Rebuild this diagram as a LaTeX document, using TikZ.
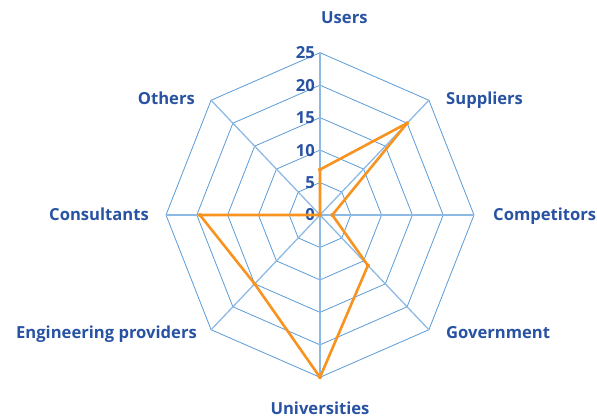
\documentclass[tikz,border=0pt]{standalone}
\usepackage{fontspec}
\setsansfont{Open Sans}
\usepackage{xcolor}
\usepackage{tikz}
\usetikzlibrary{positioning}
\definecolor{gridblue}{RGB}{91,155,213}
\definecolor{axisblue}{RGB}{140,186,228}
\definecolor{textblue}{RGB}{40,82,162}
\definecolor{lineorange}{RGB}{247,147,30}

\begin{document}
\begin{tikzpicture}[x=6.16pt,y=6.492pt]
\tikzset{ring/.style = {draw=gridblue,line width=0.8pt,line join=miter}}
\tikzset{spoke/.style = {draw=axisblue,line width=1.3pt}}
\tikzset{axislabel/.style = {font=\sffamily\bfseries\fontsize{16.6}{19}\selectfont,text=textblue,inner sep=0pt}}
\tikzset{series/.style = {draw=lineorange,line width=2.6pt,line join=round}}
\useasboundingbox (-320pt,-204pt) rectangle (277pt,215pt);
\coordinate (o) at (0,0);
\foreach \a/\n in {90/users,45/suppliers,0/competitors,-45/government,-90/universities,-135/engineering,180/consultants,135/others}
  \coordinate (\n) at (\a:25);
% rings and spokes
\foreach \r in {5,10,...,25}
  \draw[ring] (0:\r) -- (45:\r) -- (90:\r) -- (135:\r) -- (180:\r) -- (225:\r) -- (270:\r) -- (315:\r) -- cycle;
\foreach \n in {users,suppliers,competitors,government,universities,engineering,consultants,others}
  \draw[spoke] (o) -- (\n);
% scale
\foreach \r in {0,5,...,25}
  \node[axislabel,anchor=east,xshift=-5pt] (tick\r) at (0,\r) {\r};
% axis names
\node[axislabel,anchor=base west] (users-label) at (1pt,191pt) {Users};
\node[axislabel,anchor=base west] (suppliers-label) at (126pt,110.7pt) {Suppliers};
\node[axislabel,anchor=base west] (competitors-label) at (173pt,-6pt) {Competitors};
\node[axislabel,anchor=base west] (government-label) at (126pt,-123.7pt) {Government};
\node[axislabel,anchor=base] (universities-label) at (0pt,-200pt) {Universities};
\node[axislabel,anchor=base east] (engineering-label) at (-123pt,-123.3pt) {Engineering providers};
\node[axislabel,anchor=base east] (consultants-label) at (-171pt,-6pt) {Consultants};
\node[axislabel,anchor=base east] (others-label) at (-125pt,110.7pt) {Others};
% data
\coordinate (p1) at (90:7);
\coordinate (p2) at (45:20);
\coordinate (p3) at (0:2);
\coordinate (p4) at (-45:11);
\coordinate (p5) at (-90:25);
\coordinate (p6) at (-135:15);
\coordinate (p7) at (180:19.5);
\coordinate (p8) at (135:0);
\draw[series] (p1) -- (p2) -- (p3) -- (p4) -- (p5) -- (p6) -- (p7) -- (p8) -- cycle;
\foreach \p in {p1,p2,p3,p4,p5,p6,p7,p8}
  \fill[lineorange] (\p) circle (2pt);
\end{tikzpicture}
\end{document}
